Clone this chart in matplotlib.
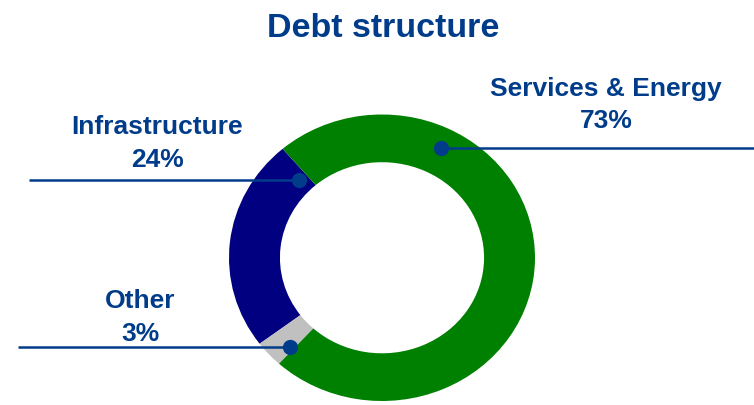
import numpy as np
import matplotlib
matplotlib.use('Agg')
import matplotlib.pyplot as plt

plt.rcParams['font.family'] = ['Liberation Sans', 'DejaVu Sans']

# debt split by segment (percent)
segments = ['Infrastructure', 'Other', 'Services & Energy']
shares = [24, 3, 73]
seg_colors = ['#000080', '#C0C0C0', '#008000']

# callout layout: anchor angle/radius on the ring, label centre x, name baseline y, line end x
anchor_angle = [134.9, 225.9, 63.3]
anchor_r = [0.768, 0.864, 0.859]
label_x = [157.5, 140, 606]
label_base = [134.3, 308.3, 95.8]
line_end = [29, 18, 754]

W, H = 754, 406
ink = '#003C8A'

fig = plt.figure(figsize=(W / 100, H / 100), dpi=100)

# ring drawn in its own axes so it can be slightly elliptical
left, right, top, bottom = 229, 535, 115.5, 402
ax_d = fig.add_axes([left / W, (H - bottom) / H, (right - left) / W, (bottom - top) / H])
ax_d.pie(shares, colors=seg_colors, startangle=130.5, counterclock=True, radius=1,
         wedgeprops=dict(width=0.333, linewidth=0))
ax_d.set_aspect('auto')
ax_d.set_xlim(-1, 1)
ax_d.set_ylim(-1, 1)
ax_d.axis('off')

# overlay in pixel coordinates for title, leader lines and labels
ax = fig.add_axes([0, 0, 1, 1])
ax.set_xlim(0, W)
ax.set_ylim(H, 0)
ax.axis('off')

to_px = ax_d.transData + ax.transData.inverted()

ax.text(383.5, 37.3, 'Debt structure', ha='center', va='baseline',
        fontsize=24.5, fontweight='bold', color=ink)

for name, pct, ang, r, lx, by, xe in zip(segments, shares, anchor_angle, anchor_r,
                                           label_x, label_base, line_end):
    a = np.deg2rad(ang)
    px, py = to_px.transform((r * np.cos(a), r * np.sin(a)))
    ax.plot([px, xe], [py, py], color=ink, lw=1.8, solid_capstyle='butt')
    ax.plot(px, py, 'o', color=ink, ms=11, mec='none')
    ax.text(lx, by, name, ha='center', va='baseline', fontsize=19,
            fontweight='bold', color=ink)
    ax.text(lx, by + 32.5, f'{pct}%', ha='center', va='baseline', fontsize=19,
            fontweight='bold', color=ink)

fig.savefig('out.png', dpi=100)
